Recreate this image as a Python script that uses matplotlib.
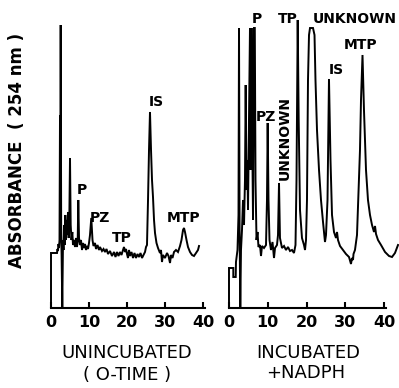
import matplotlib
matplotlib.use("Agg")  # no display
from matplotlib import pyplot as plt

# retention time (min) vs detector response (arbitrary chart units)
# left panel: unincubated (0-time)
t_zero = [0, 0, 1.58, 1.71, 1.84, 1.97, 2.11, 2.24, 2.37, 2.45, 2.55, 2.68, 2.79, 2.97,
          3.16, 3.29, 3.42, 3.61, 3.76, 3.95, 4.13, 4.29, 4.47, 4.66, 4.82, 5.0, 5.18,
          5.39, 5.61, 5.79, 6.05, 6.32, 6.58, 6.84, 7.03, 7.18, 7.37, 7.63, 7.89, 8.16,
          8.42, 8.68, 8.95, 9.21, 9.47, 9.74, 10.0, 10.26, 10.6, 10.92, 11.18, 11.58,
          11.84, 12.24, 12.63, 12.89, 13.42, 13.82, 14.21, 14.61, 15.0, 15.53, 16.05,
          16.58, 16.97, 17.37, 17.76, 18.16, 18.55, 18.95, 19.21, 19.47, 19.74, 20.0,
          20.26, 20.53, 20.79, 21.18, 21.58, 21.97, 22.37, 22.76, 23.16, 23.55, 23.95,
          24.34, 24.74, 25.0, 25.26, 25.53, 25.79, 26.05, 26.32, 26.58, 26.84, 27.11,
          27.37, 27.76, 28.16, 28.68, 28.95, 29.21, 29.47, 30.0, 30.53, 30.92, 31.32,
          31.58, 31.97, 32.37, 32.89, 33.42, 33.95, 34.34, 34.74, 35.0, 35.26, 35.66,
          36.05, 36.58, 37.11, 37.63, 38.16, 38.68, 38.95]
a_zero = [0, 55, 55, 59, 57, 64, 60, 68, 193, 78, 283, 73, 53, 1,
          68, 58, 83, 63, 93, 68, 88, 73, 96, 70, 88, 150, 83,
          68, 76, 63, 68, 61, 70, 61, 68, 108, 70, 63, 68, 58,
          65, 60, 64, 58, 62, 59, 65, 73, 90, 68, 62, 65,
          59, 63, 58, 61, 57, 59, 56, 59, 54, 57, 52,
          56, 51, 56, 52, 56, 53, 58, 61, 56, 59, 54,
          50, 58, 52, 56, 50, 55, 50, 54, 51, 55, 50,
          53, 56, 61, 63, 108, 158, 196, 158, 128, 111, 88,
          75, 65, 60, 55, 58, 46, 53, 50, 55, 52, 45,
          53, 50, 56, 58, 56, 62, 68, 78, 80, 76, 68,
          61, 56, 53, 52, 55, 58, 62]

# right panel: incubated + NADPH
t_nadph = [0, 0, 1.11, 1.11, 1.73, 1.8, 2.19, 2.45, 2.58, 2.73, 2.91, 3.09, 3.35, 3.61,
           3.87, 4.12, 4.3, 4.51, 4.72, 4.9, 5.15, 5.41, 5.57, 5.8, 6.0, 6.19, 6.44,
           6.65, 6.83, 7.09, 7.35, 7.6, 7.99, 8.25, 8.51, 9.02, 9.54, 9.79, 9.97, 10.18,
           10.44, 10.82, 11.21, 11.6, 11.86, 12.37, 12.63, 12.89, 13.14, 13.66, 14.18,
           14.69, 15.21, 15.72, 16.24, 16.75, 17.14, 17.4, 17.71, 17.96, 18.3, 18.81,
           19.33, 19.59, 19.85, 20.1, 20.36, 20.62, 20.88, 21.65, 22.04, 22.29, 22.68,
           23.2, 23.71, 24.23, 24.74, 25.0, 25.39, 25.77, 26.16, 26.55, 27.06, 27.58,
           27.84, 28.09, 28.61, 29.38, 30.15, 30.93, 31.44, 31.7, 31.96, 32.09, 32.47,
           32.99, 33.76, 34.02, 34.41, 34.79, 35.31, 35.82, 36.34, 36.86, 37.37, 37.63,
           37.89, 38.4, 39.18, 40.21, 41.24, 42.01, 42.78, 43.56]
a_nadph = [0, 40, 40, 31, 31, 46, 58, 93, 280, 78, 0, 58, 78, 108,
           83, 128, 223, 118, 148, 98, 188, 280, 138, 280, 168, 88, 280,
           280, 128, 68, 76, 61, 63, 52, 62, 60, 63, 108, 185, 108,
           68, 58, 66, 50, 60, 63, 73, 125, 70, 60, 62,
           58, 61, 57, 58, 55, 63, 128, 288, 188, 98, 70,
           63, 58, 68, 108, 228, 273, 280, 280, 273, 228, 178,
           138, 108, 86, 66, 73, 108, 229, 148, 93, 76, 70,
           76, 68, 62, 58, 54, 51, 44, 50, 48, 54, 58,
           73, 158, 208, 253, 198, 138, 108, 93, 83, 76, 82,
           74, 68, 63, 56, 52, 51, 55, 63]

ticks = [0, 10, 20, 30, 40]

labels_zero = [("P", 8.0, 118), ("PZ", 13.0, 90), ("TP", 18.7, 70),
               ("IS", 27.6, 206), ("MTP", 35.0, 90)]
labels_nadph = [("P", 7.2, 289), ("TP", 15.1, 289), ("UNKNOWN", 32.5, 289),
                ("MTP", 34.0, 263), ("IS", 27.6, 238), ("PZ", 9.5, 191)]

fig = plt.figure(figsize=(3.99, 3.88), dpi=100)
ax1 = fig.add_axes([0.1183, 0.2062, 0.40, 0.7474])
ax2 = fig.add_axes([0.5642, 0.2062, 0.4376, 0.7474])

for ax, t, a, xmax in [(ax1, t_zero, a_zero, 41), (ax2, t_nadph, a_nadph, 44)]:
    ax.plot(t, a, color="black", lw=1.4, solid_joinstyle="miter")
    ax.set_xlim(-1, xmax)
    ax.set_ylim(0, 290)
    for s in ["left", "right", "top"]:
        ax.spines[s].set_visible(False)
    ax.spines["bottom"].set_bounds(0, 40.5)
    ax.spines["bottom"].set_linewidth(1.5)
    ax.set_xticks(ticks)
    ax.set_xticklabels([str(v) for v in ticks], fontsize=11.5, fontweight="bold")
    ax.tick_params(axis="x", direction="in", length=4, width=1.5, pad=5)
    ax.set_yticks([])
    ax.patch.set_visible(False)

for txt, x, y in labels_zero:
    ax1.text(x, y, txt, ha="center", va="center", fontsize=10, fontweight="bold")
for txt, x, y in labels_nadph:
    ax2.text(x, y, txt, ha="center", va="center", fontsize=10, fontweight="bold",
             clip_on=False)
ax2.text(14.4, 170, "UNKNOWN", rotation=90, ha="center", va="center",
         fontsize=10, fontweight="bold")

fig.text(0.0426, 0.612, "ABSORBANCE  ( 254 nm )", rotation=90, ha="center", va="center",
         fontsize=12, fontweight="bold")
fig.text(0.318, 0.090, "UNINCUBATED", ha="center", va="center", fontsize=13)
fig.text(0.318, 0.0335, "( O-TIME )", ha="center", va="center", fontsize=13)
fig.text(0.772, 0.090, "INCUBATED", ha="center", va="center", fontsize=13)
fig.text(0.767, 0.0387, "+NADPH", ha="center", va="center", fontsize=13)

plt.savefig("out.png", dpi=100)
